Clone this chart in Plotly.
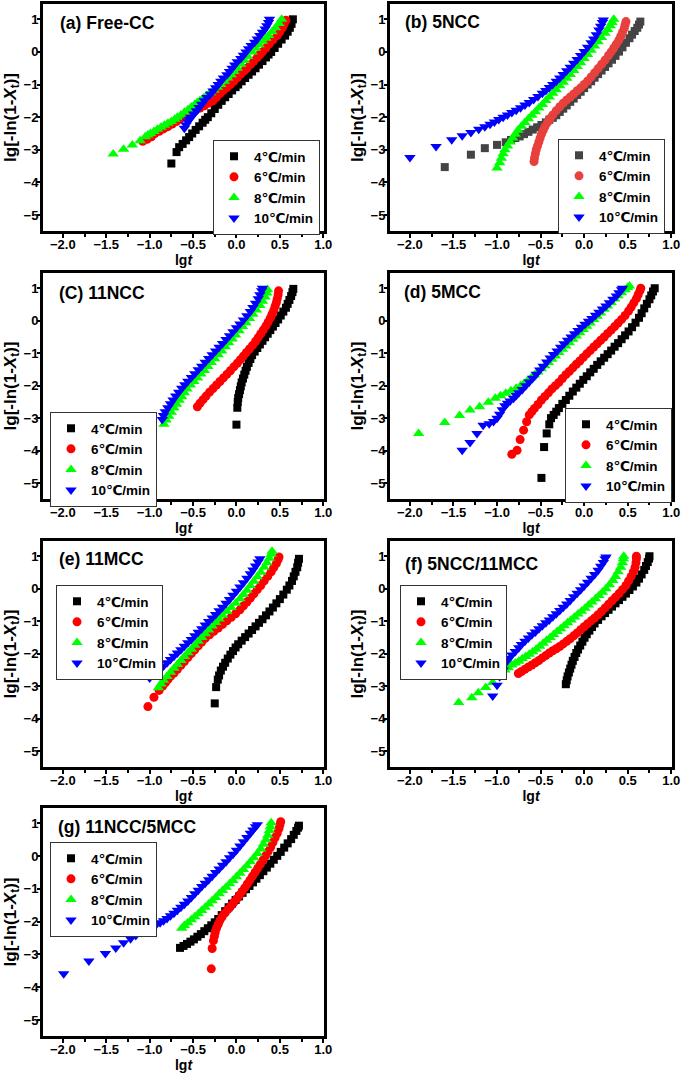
import plotly.graph_objects as go

# ---------------- data (lgt, lg[-ln(1-Xt)]) ----------------
rates = ["4℃/min", "6℃/min", "8℃/min", "10℃/min"]

# (a) Free-CC
a_4 = [(-0.75,-3.42),(-0.69,-3.07),(-0.66,-2.92),(-0.62,-2.82),(-0.58,-2.71),(-0.545,-2.61),(-0.51,-2.5),
       (-0.47,-2.39),(-0.43,-2.28),(-0.39,-2.17),(-0.36,-2.08),(-0.33,-2.0),(-0.29,-1.88),(-0.25,-1.75),
       (-0.21,-1.62),(-0.17,-1.5),(-0.13,-1.39),(-0.09,-1.29),(-0.05,-1.18),(-0.01,-1.08),(0.02,-1.0),
       (0.06,-0.9),(0.10,-0.8),(0.14,-0.7),(0.18,-0.6),(0.22,-0.5),(0.26,-0.39),(0.30,-0.28),(0.34,-0.17),
       (0.37,-0.08),(0.40,0.0),(0.44,0.12),(0.48,0.25),(0.52,0.38),(0.56,0.5),(0.59,0.62),(0.615,0.74),
       (0.635,0.86),(0.65,1.0)]
a_6 = [(-1.08,-2.74),(-1.03,-2.68),(-0.98,-2.6),(-0.94,-2.5),(-0.89,-2.43),(-0.84,-2.36),(-0.79,-2.29),
       (-0.74,-2.21),(-0.69,-2.13),(-0.65,-2.06),(-0.62,-2.0),(-0.57,-1.93),(-0.52,-1.86),(-0.47,-1.79),
       (-0.42,-1.72),(-0.37,-1.65),(-0.32,-1.57),(-0.27,-1.5),(-0.23,-1.39),(-0.19,-1.28),(-0.15,-1.18),
       (-0.11,-1.09),(-0.07,-1.0),(-0.03,-0.9),(0.01,-0.79),(0.05,-0.68),(0.09,-0.58),(0.12,-0.5),
       (0.16,-0.39),(0.20,-0.28),(0.24,-0.17),(0.27,-0.08),(0.30,0.0),(0.34,0.12),(0.38,0.25),(0.42,0.37),
       (0.47,0.5),(0.50,0.62),(0.53,0.74),(0.55,0.86),(0.57,0.97)]
a_8 = [(-1.42,-3.13),(-1.30,-2.98),(-1.20,-2.85),(-1.11,-2.72),(-1.05,-2.6),(-1.02,-2.55),(-0.99,-2.5),
       (-0.95,-2.44),(-0.91,-2.37),(-0.87,-2.31),(-0.83,-2.25),(-0.79,-2.19),(-0.75,-2.13),(-0.71,-2.06),
       (-0.68,-2.0),(-0.64,-1.93),(-0.60,-1.85),(-0.56,-1.77),(-0.52,-1.69),(-0.48,-1.6),(-0.45,-1.55),
       (-0.42,-1.5),(-0.38,-1.41),(-0.34,-1.33),(-0.30,-1.25),(-0.26,-1.17),(-0.22,-1.08),(-0.18,-1.0),
       (-0.14,-0.9),(-0.10,-0.8),(-0.06,-0.7),(-0.03,-0.6),(0.01,-0.5),(0.05,-0.38),(0.09,-0.26),
       (0.13,-0.14),(0.18,0.0),(0.22,0.11),(0.26,0.22),(0.30,0.33),(0.34,0.42),(0.37,0.5),(0.41,0.62),
       (0.45,0.74),(0.49,0.87),(0.52,1.0)]
a_10 = [(-0.60,-2.34),(-0.58,-2.24),(-0.56,-2.14),(-0.54,-2.06),(-0.52,-2.0),(-0.49,-1.9),(-0.46,-1.8),
        (-0.43,-1.7),(-0.40,-1.6),(-0.37,-1.5),(-0.34,-1.4),(-0.30,-1.3),(-0.27,-1.2),(-0.24,-1.1),
        (-0.21,-1.0),(-0.18,-0.9),(-0.15,-0.8),(-0.11,-0.7),(-0.08,-0.6),(-0.05,-0.5),(-0.02,-0.4),
        (0.01,-0.3),(0.05,-0.2),(0.08,-0.1),(0.11,0.0),(0.14,0.1),(0.17,0.2),(0.21,0.3),(0.24,0.4),
        (0.27,0.5),(0.30,0.6),(0.33,0.7),(0.35,0.8),(0.37,0.9),(0.38,1.0)]

# (b) 5NCC
b_4 = [(-1.60,-3.53),(-1.30,-3.15),(-1.14,-2.95),(-1.0,-2.85),(-0.90,-2.77),(-0.84,-2.70),(-0.79,-2.64),
       (-0.74,-2.59),(-0.69,-2.52),(-0.64,-2.45),(-0.59,-2.38),(-0.54,-2.31),(-0.49,-2.24),(-0.44,-2.16),
       (-0.40,-2.08),(-0.36,-2.02),(-0.32,-1.94),(-0.28,-1.84),(-0.24,-1.74),(-0.20,-1.64),(-0.16,-1.53),
       (-0.12,-1.43),(-0.08,-1.32),(-0.04,-1.22),(0.0,-1.11),(0.04,-1.0),(0.08,-0.9),(0.12,-0.79),
       (0.16,-0.68),(0.20,-0.57),(0.24,-0.46),(0.28,-0.35),(0.32,-0.24),(0.36,-0.12),(0.40,0.01),
       (0.44,0.14),(0.48,0.28),(0.52,0.42),(0.55,0.53),(0.58,0.64),(0.61,0.74),(0.63,0.84),(0.645,0.93)]
b_6 = [(-0.575,-3.36),(-0.57,-3.25),(-0.56,-3.12),(-0.55,-3.0),(-0.535,-2.88),(-0.52,-2.76),(-0.505,-2.64),
       (-0.49,-2.52),(-0.47,-2.40),(-0.45,-2.29),(-0.42,-2.16),(-0.39,-2.04),(-0.36,-1.93),(-0.32,-1.80),
       (-0.28,-1.68),(-0.24,-1.57),(-0.20,-1.47),(-0.16,-1.38),(-0.12,-1.29),(-0.08,-1.19),(-0.04,-1.10),
       (0.0,-1.0),(0.04,-0.89),(0.08,-0.77),(0.12,-0.64),(0.16,-0.51),(0.20,-0.38),(0.24,-0.25),
       (0.28,-0.11),(0.31,0.0),(0.34,0.12),(0.37,0.24),(0.40,0.37),(0.42,0.48),(0.44,0.6),(0.46,0.72),
       (0.47,0.83),(0.48,0.93)]
b_8 = [(-1.0,-3.56),(-0.97,-3.40),(-0.95,-3.26),(-0.93,-3.12),(-0.91,-3.0),(-0.88,-2.88),(-0.85,-2.76),
       (-0.82,-2.64),(-0.79,-2.52),(-0.76,-2.40),(-0.72,-2.28),(-0.68,-2.16),(-0.64,-2.05),(-0.60,-1.94),
       (-0.56,-1.83),(-0.52,-1.72),(-0.48,-1.61),(-0.44,-1.49),(-0.40,-1.38),(-0.36,-1.27),(-0.32,-1.16),
       (-0.28,-1.04),(-0.24,-0.93),(-0.20,-0.81),(-0.16,-0.69),(-0.12,-0.57),(-0.08,-0.45),(-0.04,-0.33),
       (0.0,-0.2),(0.04,-0.08),(0.08,0.05),(0.12,0.18),(0.16,0.31),(0.20,0.44),(0.24,0.57),(0.27,0.69),
       (0.30,0.80),(0.32,0.9),(0.34,1.0)]
b_10 = [(-2.0,-3.24),(-1.70,-2.90),(-1.52,-2.69),(-1.40,-2.57),(-1.30,-2.47),(-1.21,-2.37),(-1.14,-2.29),
        (-1.08,-2.22),(-1.03,-2.15),(-0.98,-2.07),(-0.93,-2.0),(-0.88,-1.93),(-0.83,-1.86),(-0.78,-1.79),
        (-0.73,-1.71),(-0.68,-1.63),(-0.63,-1.55),(-0.58,-1.46),(-0.53,-1.37),(-0.48,-1.27),(-0.44,-1.18),
        (-0.40,-1.09),(-0.36,-1.0),(-0.32,-0.9),(-0.28,-0.8),(-0.24,-0.69),(-0.20,-0.58),(-0.16,-0.47),
        (-0.12,-0.35),(-0.08,-0.23),(-0.04,-0.11),(0.0,0.01),(0.04,0.14),(0.08,0.28),(0.11,0.4),
        (0.14,0.53),(0.17,0.67),(0.19,0.79),(0.21,0.9),(0.22,0.98)]

# (C) 11NCC
c_4 = [(0.0,-3.2),(0.01,-2.68),(0.015,-2.5),(0.02,-2.38),(0.03,-2.26),(0.04,-2.14),(0.05,-2.02),(0.06,-1.9),
       (0.075,-1.78),(0.09,-1.66),(0.105,-1.54),(0.12,-1.42),(0.14,-1.30),(0.16,-1.18),(0.18,-1.06),
       (0.21,-0.95),(0.24,-0.84),(0.27,-0.73),(0.30,-0.62),(0.33,-0.51),(0.36,-0.40),(0.39,-0.29),
       (0.42,-0.18),(0.45,-0.07),(0.48,0.04),(0.51,0.16),(0.54,0.28),(0.57,0.40),(0.59,0.52),(0.61,0.64),
       (0.63,0.76),(0.645,0.88),(0.655,0.98)]
c_6 = [(-0.45,-2.65),(-0.42,-2.54),(-0.385,-2.43),(-0.35,-2.32),(-0.31,-2.2),(-0.27,-2.09),(-0.23,-1.98),
       (-0.19,-1.87),(-0.15,-1.76),(-0.11,-1.65),(-0.07,-1.54),(-0.03,-1.42),(0.01,-1.31),(0.045,-1.2),
       (0.08,-1.09),(0.115,-0.98),(0.15,-0.87),(0.185,-0.76),(0.22,-0.64),(0.25,-0.52),(0.28,-0.40),
       (0.31,-0.28),(0.34,-0.16),(0.365,-0.04),(0.39,0.08),(0.41,0.2),(0.43,0.32),(0.445,0.44),
       (0.46,0.56),(0.47,0.68),(0.48,0.8),(0.485,0.92)]
c_8 = [(-0.835,-3.19),(-0.81,-3.06),(-0.78,-2.94),(-0.75,-2.82),(-0.72,-2.69),(-0.69,-2.57),(-0.66,-2.45),
       (-0.63,-2.34),(-0.60,-2.22),(-0.57,-2.10),(-0.53,-1.98),(-0.49,-1.87),(-0.45,-1.76),(-0.41,-1.64),
       (-0.37,-1.53),(-0.33,-1.41),(-0.29,-1.29),(-0.25,-1.17),(-0.21,-1.05),(-0.17,-0.93),(-0.13,-0.8),
       (-0.09,-0.68),(-0.05,-0.56),(-0.01,-0.44),(0.03,-0.31),(0.07,-0.18),(0.11,-0.06),(0.15,0.07),
       (0.19,0.2),(0.23,0.33),(0.27,0.47),(0.30,0.6),(0.33,0.73),(0.35,0.85),(0.36,0.95)]
c_10 = [(-0.855,-3.04),(-0.84,-2.92),(-0.82,-2.8),(-0.79,-2.68),(-0.76,-2.56),(-0.73,-2.44),(-0.70,-2.32),
        (-0.665,-2.2),(-0.63,-2.08),(-0.595,-1.97),(-0.56,-1.86),(-0.52,-1.75),(-0.48,-1.63),(-0.44,-1.51),
        (-0.40,-1.40),(-0.36,-1.28),(-0.32,-1.16),(-0.28,-1.05),(-0.24,-0.93),(-0.20,-0.82),(-0.16,-0.70),
        (-0.12,-0.58),(-0.08,-0.46),(-0.04,-0.34),(0.0,-0.22),(0.04,-0.1),(0.08,0.02),(0.12,0.15),
        (0.16,0.28),(0.19,0.41),(0.22,0.54),(0.25,0.68),(0.27,0.8),(0.29,0.92),(0.30,1.0)]

# (d) 5MCC
d_4 = [(-0.49,-4.84),(-0.46,-3.89),(-0.43,-3.47),(-0.40,-3.19),(-0.38,-3.0),(-0.35,-2.9),(-0.32,-2.8),
       (-0.29,-2.69),(-0.25,-2.56),(-0.21,-2.44),(-0.17,-2.31),(-0.13,-2.18),(-0.09,-2.06),(-0.05,-1.94),
       (-0.01,-1.82),(0.03,-1.71),(0.07,-1.59),(0.11,-1.48),(0.15,-1.36),(0.19,-1.25),(0.23,-1.14),
       (0.27,-1.03),(0.31,-0.92),(0.35,-0.8),(0.39,-0.69),(0.43,-0.57),(0.47,-0.45),(0.51,-0.33),
       (0.55,-0.2),(0.59,-0.06),(0.63,0.09),(0.66,0.23),(0.69,0.38),(0.72,0.52),(0.75,0.66),(0.77,0.78),
       (0.79,0.9),(0.81,1.0)]
d_6 = [(-0.83,-4.11),(-0.77,-3.99),(-0.735,-3.66),(-0.695,-3.37),(-0.66,-3.11),(-0.63,-2.9),(-0.60,-2.8),
       (-0.57,-2.7),(-0.53,-2.58),(-0.49,-2.44),(-0.45,-2.33),(-0.41,-2.22),(-0.37,-2.1),(-0.33,-2.0),
       (-0.29,-1.9),(-0.25,-1.78),(-0.21,-1.66),(-0.17,-1.56),(-0.13,-1.45),(-0.09,-1.34),(-0.05,-1.24),
       (-0.01,-1.13),(0.03,-1.02),(0.07,-0.92),(0.11,-0.81),(0.15,-0.71),(0.19,-0.6),(0.23,-0.5),
       (0.27,-0.39),(0.31,-0.29),(0.35,-0.18),(0.39,-0.07),(0.43,0.04),(0.47,0.16),(0.51,0.3),(0.54,0.42),
       (0.57,0.55),(0.60,0.68),(0.62,0.8),(0.64,0.92),(0.65,1.0)]
d_8 = [(-1.90,-3.47),(-1.60,-3.13),(-1.43,-2.92),(-1.31,-2.75),(-1.20,-2.65),(-1.10,-2.51),(-1.02,-2.39),
       (-0.96,-2.31),(-0.90,-2.23),(-0.84,-2.16),(-0.78,-2.08),(-0.73,-2.0),(-0.69,-1.93),(-0.65,-1.85),
       (-0.61,-1.76),(-0.57,-1.67),(-0.53,-1.58),(-0.49,-1.48),(-0.45,-1.39),(-0.41,-1.29),(-0.37,-1.19),
       (-0.33,-1.09),(-0.29,-0.98),(-0.25,-0.88),(-0.21,-0.78),(-0.17,-0.68),(-0.13,-0.57),(-0.09,-0.47),
       (-0.05,-0.37),(-0.01,-0.27),(0.03,-0.17),(0.07,-0.07),(0.11,0.04),(0.15,0.14),(0.19,0.24),
       (0.23,0.35),(0.27,0.45),(0.31,0.56),(0.35,0.67),(0.39,0.77),(0.43,0.86),(0.47,0.95),(0.50,1.02),
       (0.52,1.07)]
d_10 = [(-1.40,-3.99),(-1.31,-3.75),(-1.23,-3.47),(-1.16,-3.22),(-1.09,-3.17),(-1.04,-3.1),(-1.0,-3.0),
        (-0.97,-2.88),(-0.94,-2.74),(-0.91,-2.62),(-0.88,-2.54),(-0.85,-2.47),(-0.81,-2.39),(-0.78,-2.3),
        (-0.75,-2.22),(-0.71,-2.12),(-0.67,-2.0),(-0.63,-1.89),(-0.59,-1.77),(-0.55,-1.65),(-0.51,-1.52),
        (-0.47,-1.4),(-0.43,-1.27),(-0.39,-1.15),(-0.35,-1.04),(-0.31,-0.93),(-0.27,-0.82),(-0.23,-0.71),
        (-0.19,-0.6),(-0.15,-0.5),(-0.11,-0.4),(-0.07,-0.3),(-0.03,-0.2),(0.01,-0.11),(0.05,-0.02),
        (0.09,0.07),(0.13,0.17),(0.17,0.26),(0.21,0.36),(0.25,0.45),(0.29,0.55),(0.33,0.66),(0.37,0.76),
        (0.40,0.86),(0.43,0.95),(0.44,1.0)]

# (e) 11MCC
e_4 = [(-0.25,-3.53),(-0.234,-3.03),(-0.215,-2.8),(-0.20,-2.67),(-0.18,-2.52),(-0.155,-2.4),(-0.13,-2.28),
       (-0.10,-2.15),(-0.07,-2.03),(-0.04,-1.92),(-0.01,-1.81),(0.02,-1.71),(0.06,-1.6),(0.10,-1.49),
       (0.14,-1.38),(0.18,-1.27),(0.22,-1.16),(0.26,-1.05),(0.30,-0.94),(0.34,-0.82),(0.38,-0.7),
       (0.42,-0.58),(0.46,-0.45),(0.50,-0.32),(0.54,-0.18),(0.58,-0.03),(0.61,0.1),(0.64,0.24),
       (0.66,0.38),(0.68,0.52),(0.70,0.66),(0.71,0.8),(0.72,0.92)]
e_6 = [(-1.02,-3.63),(-0.95,-3.34),(-0.89,-3.13),(-0.85,-3.0),(-0.82,-2.9),(-0.79,-2.8),(-0.76,-2.7),
       (-0.72,-2.6),(-0.68,-2.48),(-0.64,-2.36),(-0.60,-2.24),(-0.56,-2.12),(-0.52,-2.0),(-0.48,-1.88),
       (-0.44,-1.76),(-0.40,-1.64),(-0.36,-1.53),(-0.31,-1.42),(-0.26,-1.31),(-0.21,-1.21),(-0.16,-1.1),
       (-0.11,-0.99),(-0.06,-0.88),(-0.01,-0.77),(0.04,-0.65),(0.08,-0.53),(0.12,-0.41),(0.16,-0.29),
       (0.20,-0.16),(0.24,-0.03),(0.28,0.1),(0.32,0.24),(0.36,0.38),(0.40,0.52),(0.43,0.65),(0.46,0.78),
       (0.48,0.9),(0.49,0.98)]
e_8 = [(-0.90,-3.05),(-0.87,-2.93),(-0.84,-2.82),(-0.80,-2.7),(-0.76,-2.57),(-0.72,-2.45),(-0.68,-2.33),
       (-0.64,-2.21),(-0.60,-2.09),(-0.56,-1.97),(-0.52,-1.86),(-0.48,-1.74),(-0.44,-1.62),(-0.40,-1.5),
       (-0.36,-1.39),(-0.32,-1.27),(-0.28,-1.15),(-0.24,-1.04),(-0.20,-0.93),(-0.16,-0.82),(-0.11,-0.7),
       (-0.06,-0.58),(-0.01,-0.45),(0.04,-0.31),(0.08,-0.18),(0.12,-0.05),(0.16,0.09),(0.20,0.23),
       (0.24,0.37),(0.28,0.51),(0.32,0.66),(0.35,0.8),(0.38,0.94),(0.40,1.06),(0.41,1.15)]
e_10 = [(-1.0,-2.75),(-0.96,-2.66),(-0.92,-2.57),(-0.88,-2.48),(-0.84,-2.38),(-0.80,-2.28),(-0.76,-2.18),
        (-0.72,-2.08),(-0.68,-1.98),(-0.64,-1.88),(-0.60,-1.77),(-0.56,-1.66),(-0.52,-1.56),(-0.48,-1.45),
        (-0.44,-1.34),(-0.40,-1.23),(-0.36,-1.12),(-0.32,-1.01),(-0.28,-0.9),(-0.24,-0.79),(-0.20,-0.68),
        (-0.16,-0.57),(-0.12,-0.45),(-0.08,-0.33),(-0.04,-0.2),(0.0,-0.08),(0.04,0.05),(0.08,0.18),
        (0.12,0.32),(0.16,0.46),(0.19,0.58),(0.22,0.7),(0.25,0.82),(0.27,0.92)]

# (f) 5NCC/11MCC
f_4 = [(-0.21,-2.94),(-0.20,-2.82),(-0.19,-2.7),(-0.175,-2.58),(-0.16,-2.46),(-0.145,-2.34),(-0.13,-2.22),
       (-0.11,-2.1),(-0.09,-1.98),(-0.07,-1.87),(-0.045,-1.75),(-0.02,-1.63),(0.005,-1.51),(0.03,-1.4),
       (0.06,-1.29),(0.09,-1.18),(0.12,-1.07),(0.16,-0.96),(0.20,-0.85),(0.24,-0.75),(0.28,-0.65),
       (0.32,-0.55),(0.36,-0.45),(0.40,-0.35),(0.44,-0.25),(0.48,-0.15),(0.52,-0.04),(0.56,0.07),
       (0.60,0.19),(0.63,0.31),(0.66,0.44),(0.69,0.58),(0.71,0.7),(0.73,0.82),(0.745,0.93),(0.75,1.0)]
f_6 = [(-0.755,-2.61),(-0.72,-2.55),(-0.68,-2.48),(-0.64,-2.41),(-0.60,-2.35),(-0.56,-2.28),(-0.52,-2.21),
       (-0.48,-2.13),(-0.44,-2.06),(-0.40,-1.98),(-0.36,-1.91),(-0.32,-1.85),(-0.28,-1.78),(-0.24,-1.7),
       (-0.20,-1.62),(-0.16,-1.54),(-0.12,-1.45),(-0.08,-1.36),(-0.04,-1.26),(0.0,-1.17),(0.04,-1.08),
       (0.08,-0.99),(0.12,-0.9),(0.16,-0.8),(0.20,-0.7),(0.24,-0.59),(0.28,-0.48),(0.32,-0.37),
       (0.36,-0.26),(0.40,-0.15),(0.44,-0.03),(0.48,0.1),(0.51,0.24),(0.54,0.38),(0.565,0.52),
       (0.585,0.66),(0.595,0.8),(0.60,0.92),(0.60,1.0)]
f_8 = [(-1.44,-3.5),(-1.29,-3.36),(-1.215,-3.2),(-1.13,-3.04),(-1.05,-2.89),(-0.99,-2.71),(-0.95,-2.6),
       (-0.91,-2.5),(-0.87,-2.43),(-0.83,-2.35),(-0.79,-2.29),(-0.75,-2.23),(-0.71,-2.16),(-0.67,-2.09),
       (-0.63,-2.02),(-0.59,-1.94),(-0.55,-1.86),(-0.51,-1.77),(-0.47,-1.68),(-0.43,-1.59),(-0.39,-1.5),
       (-0.35,-1.41),(-0.31,-1.32),(-0.27,-1.23),(-0.23,-1.14),(-0.19,-1.05),(-0.15,-0.96),(-0.11,-0.87),
       (-0.07,-0.78),(-0.03,-0.69),(0.01,-0.6),(0.05,-0.5),(0.09,-0.41),(0.13,-0.31),(0.17,-0.21),
       (0.21,-0.11),(0.25,0.0),(0.29,0.12),(0.33,0.25),(0.36,0.38),(0.39,0.52),(0.42,0.66),(0.44,0.8),
       (0.45,0.92),(0.455,1.0)]
f_10 = [(-1.05,-3.3),(-1.0,-2.97),(-0.97,-2.71),(-0.93,-2.5),(-0.89,-2.25),(-0.86,-2.14),(-0.83,-2.04),
        (-0.79,-1.93),(-0.75,-1.82),(-0.72,-1.72),(-0.68,-1.62),(-0.64,-1.52),(-0.60,-1.42),(-0.56,-1.33),
        (-0.52,-1.23),(-0.48,-1.14),(-0.44,-1.05),(-0.40,-0.96),(-0.36,-0.86),(-0.32,-0.77),(-0.28,-0.67),
        (-0.24,-0.57),(-0.20,-0.47),(-0.16,-0.36),(-0.12,-0.25),(-0.08,-0.14),(-0.04,-0.03),(0.0,0.08),
        (0.04,0.2),(0.08,0.32),(0.12,0.44),(0.16,0.57),(0.19,0.69),(0.22,0.81),(0.24,0.92),(0.25,0.98)]

# (g) 11NCC/5MCC
g_4 = [(-0.65,-2.8),(-0.61,-2.74),(-0.57,-2.68),(-0.53,-2.61),(-0.49,-2.54),(-0.45,-2.46),(-0.41,-2.38),
       (-0.37,-2.29),(-0.33,-2.2),(-0.29,-2.11),(-0.25,-2.02),(-0.21,-1.92),(-0.17,-1.8),(-0.13,-1.68),
       (-0.09,-1.56),(-0.05,-1.45),(-0.01,-1.34),(0.03,-1.23),(0.07,-1.12),(0.11,-1.01),(0.15,-0.91),
       (0.19,-0.8),(0.23,-0.69),(0.27,-0.58),(0.31,-0.46),(0.35,-0.35),(0.39,-0.23),(0.43,-0.11),
       (0.47,0.01),(0.51,0.13),(0.55,0.26),(0.59,0.39),(0.63,0.52),(0.66,0.65),(0.69,0.77),(0.71,0.87),
       (0.72,0.93)]
g_6 = [(-0.29,-3.44),(-0.28,-2.82),(-0.265,-2.58),(-0.255,-2.45),(-0.245,-2.33),(-0.23,-2.2),(-0.21,-2.08),
       (-0.19,-1.96),(-0.165,-1.85),(-0.135,-1.74),(-0.10,-1.63),(-0.065,-1.52),(-0.03,-1.41),(0.005,-1.3),
       (0.035,-1.19),(0.065,-1.08),(0.095,-0.97),(0.125,-0.85),(0.155,-0.73),(0.185,-0.61),(0.215,-0.49),
       (0.245,-0.37),(0.275,-0.25),(0.305,-0.12),(0.335,0.01),(0.365,0.14),(0.395,0.28),(0.42,0.42),
       (0.445,0.56),(0.47,0.7),(0.49,0.84),(0.50,0.95),(0.51,1.05)]
g_8 = [(-0.63,-2.2),(-0.60,-2.12),(-0.56,-2.03),(-0.52,-1.94),(-0.48,-1.85),(-0.44,-1.76),(-0.40,-1.66),
       (-0.36,-1.56),(-0.32,-1.46),(-0.28,-1.36),(-0.24,-1.26),(-0.20,-1.15),(-0.16,-1.05),(-0.12,-0.95),
       (-0.08,-0.84),(-0.04,-0.74),(0.0,-0.63),(0.04,-0.52),(0.08,-0.41),(0.12,-0.29),(0.16,-0.17),
       (0.20,-0.05),(0.24,0.08),(0.28,0.22),(0.31,0.36),(0.34,0.5),(0.36,0.64),(0.38,0.78),(0.39,0.9),
       (0.40,1.02)]
g_10 = [(-1.99,-3.59),(-1.70,-3.2),(-1.51,-2.97),(-1.39,-2.8),(-1.30,-2.64),(-1.22,-2.52),(-1.16,-2.42),
        (-1.09,-2.33),(-1.03,-2.26),(-0.98,-2.18),(-0.93,-2.11),(-0.88,-2.03),(-0.84,-1.97),(-0.80,-1.9),
        (-0.76,-1.82),(-0.72,-1.74),(-0.68,-1.65),(-0.64,-1.56),(-0.60,-1.47),(-0.56,-1.37),(-0.52,-1.26),
        (-0.48,-1.15),(-0.44,-1.04),(-0.40,-0.93),(-0.36,-0.83),(-0.32,-0.72),(-0.28,-0.61),(-0.24,-0.5),
        (-0.20,-0.39),(-0.16,-0.28),(-0.12,-0.17),(-0.08,-0.05),(-0.04,0.06),(0.0,0.18),(0.04,0.31),
        (0.08,0.44),(0.12,0.57),(0.16,0.7),(0.19,0.8),(0.22,0.9),(0.24,0.96)]

panel_titles = ["(a) Free-CC", "(b) 5NCC", "(C) 11NCC", "(d) 5MCC", "(e) 11MCC",
                "(f) 5NCC/11MCC", "(g) 11NCC/5MCC"]
panel_series = [[a_4, a_6, a_8, a_10], [b_4, b_6, b_8, b_10], [c_4, c_6, c_8, c_10],
                [d_4, d_6, d_8, d_10], [e_4, e_6, e_8, e_10], [f_4, f_6, f_8, f_10],
                [g_4, g_6, g_8, g_10]]

# ---------------- styling / layout ----------------
FONT = "Liberation Sans, Arial, DejaVu Sans, sans-serif"
W, H = 685, 1076
col_px = [(42, 325), (389, 673)]
row_px = [(3, 232), (272, 500), (540, 768), (807, 1037)]
symbols = ["square", "circle", "triangle-up", "triangle-down"]
msizes = [8, 9, 10, 10]
colors_default = ["#000000", "#ff0000", "#00ff00", "#0000ff"]
colors_b = ["#444444", "#e8403c", "#00ff00", "#0000ff"]
legend_pos = [(213, 140), (558, 139), (50, 412), (565, 408), (56, 585), (400, 585), (50, 842)]
title_pos = [(-2.05, 0.88), (-2.08, 0.92), (-2.07, 0.85), (-2.09, 0.87), (-2.065, 0.9),
             (-2.08, 0.77), (-2.08, 0.89)]

fig = go.Figure()
layout = dict(width=W, height=H, margin=dict(l=0, r=0, t=0, b=0, autoexpand=False),
              plot_bgcolor="white", paper_bgcolor="white", showlegend=True,
              font=dict(family=FONT, color="black"))
annotations = []
shapes = []

for i, (title, series) in enumerate(zip(panel_titles, panel_series)):
    r, c = divmod(i, 2)
    sfx = "" if i == 0 else str(i + 1)
    xa, ya = "x" + sfx, "y" + sfx
    lg = "legend" + sfx
    cols = colors_b if i == 1 else colors_default
    for k, pts in enumerate(series):
        fig.add_trace(go.Scatter(
            x=[p[0] for p in pts], y=[p[1] for p in pts], mode="markers",
            name=rates[k], xaxis=xa, yaxis=ya, legend=lg,
            marker=dict(symbol=symbols[k], size=msizes[k], color=cols[k], line=dict(width=0))))
    x0, x1 = col_px[c]
    t0, t1 = row_px[r]
    common = dict(showline=True, mirror=True, linewidth=2, linecolor="#000000",
                  showgrid=False, zeroline=False, ticks="outside", tickwidth=1.5,
                  tickcolor="#000000", automargin=False,
                  tickfont=dict(family=FONT, size=13, color="black", weight="bold"))
    layout["xaxis" + sfx] = dict(common, domain=[x0 / W, x1 / W], anchor=ya,
                                 range=[-2.24, 1.02], tickmode="linear", tick0=0, dtick=0.5,
                                 tickformat=".1f", ticklen=4, ticklabelstandoff=-5,
                                 minor=dict(ticks="outside", dtick=0.25, ticklen=3,
                                            tickwidth=1.5, tickcolor="#000000"),
                                 title=dict(text="lg<i>t</i>", standoff=1,
                                            font=dict(family=FONT, size=14, weight="bold")))
    layout["yaxis" + sfx] = dict(common, domain=[1 - t1 / H, 1 - t0 / H], anchor=xa,
                                 range=[-5.52, 1.5], tickmode="linear", tick0=0, dtick=1,
                                 ticklen=3, ticklabelstandoff=-4,
                                 title=dict(text="lg[-ln(1-<i>X</i><sub>t</sub>)]", standoff=3,
                                            font=dict(family=FONT, size=17, weight="bold")))
    # frame backup (same place as the mirrored axis lines)
    shapes.append(dict(type="rect", xref=xa + " domain", yref=ya + " domain",
                       x0=0, x1=1, y0=0, y1=1, line=dict(color="#000000", width=2),
                       fillcolor="rgba(0,0,0,0)", layer="above"))
    lx, ly = legend_pos[i]
    layout[lg] = dict(x=lx / W, y=1 - ly / H, xanchor="left", yanchor="top",
                      bgcolor="white", bordercolor="#333333", borderwidth=1,
                      font=dict(family=FONT, size=13.5, color="black", weight="bold"))
    tx, ty = title_pos[i]
    annotations.append(dict(text=title, x=tx, y=ty, xref=xa, yref=ya, xanchor="left",
                            yanchor="middle", showarrow=False,
                            font=dict(family=FONT, size=17.5, color="black", weight="bold")))

layout["annotations"] = annotations
layout["shapes"] = shapes
fig.update_layout(**layout)
fig.write_html("out.html", config={"displayModeBar": False},
               post_script="document.body.style.margin='0';")
